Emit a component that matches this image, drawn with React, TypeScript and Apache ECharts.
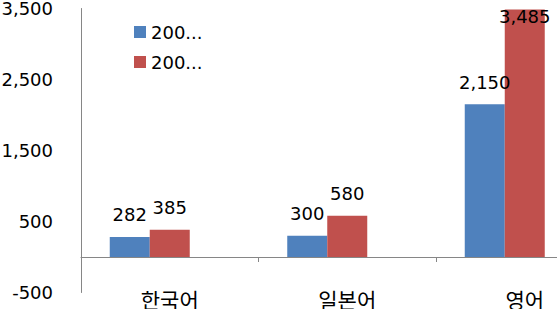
import React, { useEffect, useRef } from 'react';
import * as echarts from 'echarts';

// Languages on the category axis
const categories = ['한국어', '일본어', '영어'];
// Series names (the legend shows them shortened)
const seriesNames = ['2008년', '2009년'];
// Values per language
const firstValues = [282, 300, 2150];
const secondValues = [385, 580, 3485];
// Value axis range and labelled ticks
const yMin = -500;
const yMax = 3500;
const yTickValues = [-500, 500, 1500, 2500, 3500];

const colors = ['#4F81BD', '#C0504D'];
const axisGrey = '#868686';
const numFont = 'DejaVu Sans, Noto Sans CJK KR, sans-serif';
const krFont = 'Noto Sans CJK KR, DejaVu Sans, sans-serif';

const fmt = (v: number) => v.toLocaleString('en-US');

function valueLabel(v: number) {
  // A label that would run past the top of the plot is tucked inside the bar
  if (v > yMax - 200) {
    return { value: v, label: { position: 'insideTop', distance: 0, offset: [0, -2] } };
  }
  return v;
}

export default function App() {
  const ref = useRef<HTMLDivElement>(null);

  useEffect(() => {
    if (!ref.current) return;
    const chart = echarts.init(ref.current, undefined, { renderer: 'svg' });

    const barLabel = {
      show: true,
      position: 'top',
      distance: 13,
      color: '#000',
      fontSize: 18,
      lineHeight: 18,
      fontFamily: numFont,
      formatter: (p: any) => fmt(p.value),
    };

    chart.setOption({
      animation: false,
      backgroundColor: '#fff',
      grid: {
        left: 81,
        top: 8.5,
        width: 532.5,
        height: 284,
        containLabel: false,
        outerBoundsMode: 'none',
      },
      legend: {
        data: seriesNames,
        orient: 'vertical',
        left: 134,
        top: 23,
        padding: 0,
        itemWidth: 12,
        itemHeight: 12,
        itemGap: 12,
        icon: 'rect',
        formatter: (name: string) => name.slice(0, 3) + '...',
        textStyle: { fontSize: 18, lineHeight: 18, fontFamily: numFont, color: '#000' },
      },
      xAxis: {
        type: 'category',
        data: categories,
        axisLine: { onZero: true, lineStyle: { color: axisGrey, width: 1 } },
        axisTick: { show: true, length: 5, lineStyle: { color: axisGrey } },
        // category names sit along the bottom edge of the plot
        axisLabel: { margin: -4, fontSize: 21, lineHeight: 20, fontFamily: krFont, color: '#000' },
        splitLine: { show: false },
      },
      yAxis: {
        type: 'value',
        min: yMin,
        max: yMax,
        axisLine: { show: true, lineStyle: { color: axisGrey, width: 1 } },
        axisTick: { show: false },
        splitLine: { show: false },
        axisLabel: {
          customValues: yTickValues,
          margin: 28,
          fontSize: 18,
          lineHeight: 16,
          fontFamily: numFont,
          color: '#000',
          formatter: (v: number) => fmt(v),
        },
      },
      series: [
        {
          type: 'bar',
          name: seriesNames[0],
          data: firstValues.map(valueLabel),
          barWidth: 40,
          barGap: '0%',
          itemStyle: { color: colors[0] },
          label: barLabel,
        },
        {
          type: 'bar',
          name: seriesNames[1],
          data: secondValues.map(valueLabel),
          barWidth: 40,
          barGap: '0%',
          itemStyle: { color: colors[1] },
          label: barLabel,
        },
        {
          // empty third slot keeps the pair left of each category's centre
          type: 'bar',
          name: 'spacer',
          data: categories.map(() => '-'),
          barWidth: 40,
          barGap: '0%',
          silent: true,
          itemStyle: { color: 'transparent' },
        },
      ],
    });

    return () => chart.dispose();
  }, []);

  return (
    <div
      ref={ref}
      style={{ position: 'absolute', left: 0, top: 0, width: 557, height: 309, background: '#fff' }}
    />
  );
}
